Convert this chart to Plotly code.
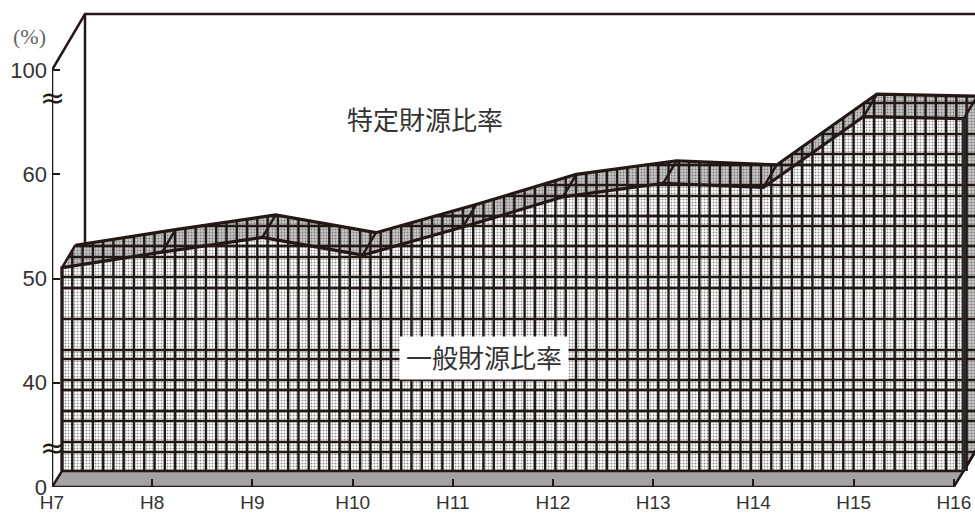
import numpy as np
import plotly.graph_objects as go

years = ["H7", "H8", "H9", "H10", "H11", "H12", "H13", "H14", "H15", "H16"]
general_ratio = [49.5, 51.0, 52.4, 50.7, 53.4, 56.3, 57.6, 57.2, 64.0, 63.8]
ytick_pos = [30, 40, 50, 60, 70]
ytick_text = ["0", "40", "50", "60", "100"]

INK = "#231815"
PX_X = 100.2
PX_Y = 10.425
n = np.arange(len(years), dtype=float)
v = np.array(general_ratio)
# projected depth offsets of the pseudo-3D chart, in axis units
fx, fy = 10 / PX_X, 16 / PX_Y      # floor front edge of the area
rx, ry = 13.3 / PX_X, 22.5 / PX_Y  # ribbon depth
wx, wy = 33 / PX_X, 56 / PX_Y      # back wall depth
base = 30.0
top_val = 70.0
# heights of the hatch lines above the floor edge, in pixels of the printed hatching
hatch_rows = [19, 29, 50, 60, 81, 91, 112, 121, 152, 183, 194, 214, 225, 245, 255, 275, 286, 306, 317, 337, 368]

front_x, front_y = n + fx, v + fy
back_x, back_y = front_x + rx, front_y + ry
floor_y = base + fy
xb_end = front_x[-1] + rx

fig = go.Figure()


def line(x, y, w=3, color=INK):
    fig.add_trace(go.Scatter(x=x, y=y, mode="lines", line=dict(color=color, width=w),
                             hoverinfo="skip", showlegend=False, cliponaxis=False))


def poly(x, y, fill=None, pattern=None):
    fig.add_trace(go.Scatter(x=x, y=y, mode="lines", fill="toself", line=dict(width=0),
                             fillcolor=fill, fillpattern=pattern, hoverinfo="skip",
                             showlegend=False, cliponaxis=False))


# back wall
line([0, wx, 9.3], [top_val, top_val + wy, top_val + wy], 2.5)
line([wx, wx], [top_val + wy, 52], 2.5)

# floor
poly([0, 9, 9 + fx + rx, fx], [base, base, floor_y + ry, floor_y], fill="#a3a3a3")

dots_light = dict(shape=".", size=3, solidity=0.35, fgcolor="#222222", bgcolor="#ffffff")
dots_dark = dict(shape=".", size=3, solidity=0.32, fgcolor="#333333", bgcolor="#c6c6c6")

# front face of the area
poly(np.r_[fx, front_x, front_x[-1]], np.r_[floor_y, front_y, floor_y], fill="#ffffff", pattern=dots_light)
# top ribbon
poly(np.r_[front_x, back_x[::-1]], np.r_[front_y, back_y[::-1]], fill="#c6c6c6", pattern=dots_dark)
# right side face
poly([front_x[-1], xb_end, xb_end, front_x[-1]], [floor_y, floor_y + ry, back_y[-1], front_y[-1]],
     fill="#c6c6c6", pattern=dots_dark)


def top_edge(x):
    return np.where(x <= back_x[0], np.interp(x, [front_x[0], back_x[0]], [front_y[0], back_y[0]]),
                    np.interp(x, back_x, back_y))


# grid lines across the area
vx = np.arange(fx, xb_end, 10.28 / PX_X)
gx, gy = [], []
for x in vx:
    gx += [x, x, None]
    gy += [floor_y, float(top_edge(np.array([x]))[0]), None]
line(gx, gy, 2.4)

dense = np.linspace(fx, xb_end, 1500)
top = top_edge(dense)
hx, hy = [], []
for off in hatch_rows:
    level = floor_y + off / PX_Y
    hx += dense.tolist() + [None]
    hy += np.where(top >= level, level, np.nan).tolist() + [None]
line(hx, hy, 2.4)

# floor edges
line([0, 9, 9 + fx + rx], [base, base, floor_y + ry], 2.5)
line([0, fx, front_x[-1], 9 + fx + rx], [base, floor_y, floor_y, floor_y + ry], 2.5)

# outlines of the ribbon
line(np.r_[fx, front_x], np.r_[floor_y, front_y], 3.2)
line(back_x, back_y, 3.2)
for a, b, c, d in zip(front_x, back_x, front_y, back_y):
    line([a, b], [c, d], 2.5)
line([front_x[-1], front_x[-1]], [floor_y, front_y[-1]], 4.5, "#2e2a28")

# value axis line, stopping at the top tick
line([0, 0], [base, top_val], 2.5)

tick_font = dict(family="Liberation Sans, Arial, sans-serif", color="#333333")
fig.update_xaxes(range=[0, 923 / PX_X], tickmode="array", tickvals=n.tolist(), ticktext=years,
                 ticks="inside", ticklen=8, tickwidth=1.5, tickcolor=INK, automargin=False,
                 showline=False, showgrid=False, zeroline=False, ticklabelstandoff=2,
                 tickfont=dict(size=19, **tick_font), layer="above traces")
fig.update_yaxes(range=[base, base + 487 / PX_Y], tickmode="array", tickvals=ytick_pos, ticktext=ytick_text,
                 ticks="inside", ticklen=8, tickwidth=1.5, tickcolor=INK, automargin=False,
                 showline=False, showgrid=False, zeroline=False, ticklabelstandoff=4,
                 tickfont=dict(size=22, **tick_font), layer="above traces")

cjk = "Noto Sans CJK JP"
ann = [
    dict(x=3.72, y=65.35, text="特定財源比率", xref="x", yref="y", font=dict(family=cjk, size=26, color="#333333")),
    dict(x=4.31, y=42.37, text="一般財源比率", xref="x", yref="y", font=dict(family=cjk, size=26, color="#333333"),
         bgcolor="#ffffff", width=166, height=40, valign="top"),
    dict(x=-23 / 923, y=1 - 37 / 487, text="(%)", xref="paper", yref="paper", xanchor="center", yanchor="middle",
         font=dict(family="Liberation Serif", size=22, color="#666666")),
    dict(x=0, y=67.4, text="≈", xref="x", yref="y", font=dict(family="DejaVu Sans", size=30, color=INK)),
    dict(x=0, y=33.8, text="≈", xref="x", yref="y", font=dict(family="DejaVu Sans", size=30, color=INK)),
]
for a in ann:
    a.update(showarrow=False)

fig.update_layout(width=975, height=514, margin=dict(l=52, r=0, t=0, b=27, pad=0),
                  paper_bgcolor="#ffffff", plot_bgcolor="#ffffff", showlegend=False,
                  annotations=ann)
fig.write_html("out.html", config={"displayModeBar": False},
               post_script="document.body.style.margin='0';")
